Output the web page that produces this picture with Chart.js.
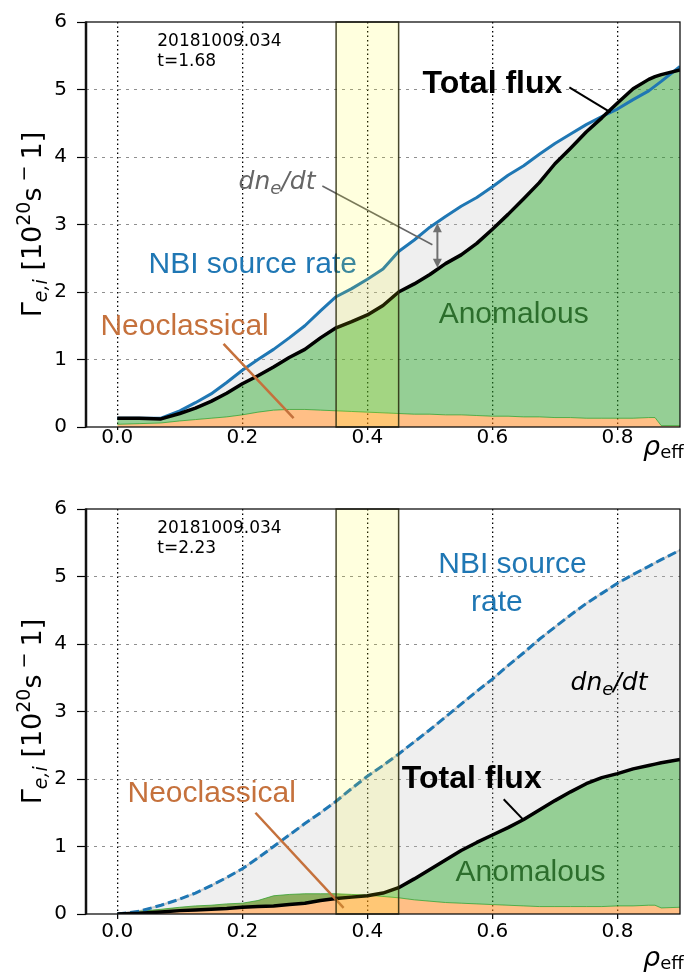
<!DOCTYPE html>
<html>
<head>
<meta charset="utf-8">
<script src="https://cdn.jsdelivr.net/npm/chart.js@4.4.1/dist/chart.umd.min.js"></script>
<style>
  body { margin: 0; background: #fff; }
  canvas { display: block; }
</style>
</head>
<body>
<canvas id="fluxEarly" width="687" height="487"></canvas>
<canvas id="fluxLate" width="687" height="486"></canvas>
<script>
// radial grid (rho_eff), shared by both time slices
const rho = [0, 0.035, 0.07, 0.1, 0.125, 0.15, 0.175, 0.2, 0.225, 0.25, 0.275, 0.3, 0.325, 0.35,
  0.375, 0.4, 0.425, 0.45, 0.475, 0.5, 0.525, 0.55, 0.575, 0.6, 0.625, 0.65, 0.675, 0.7,
  0.725, 0.75, 0.775, 0.8, 0.825, 0.85, 0.86, 0.87, 0.9];

// shot 20181009.034, t = 1.68 s
const nbiEarly = [0.13, 0.13, 0.13, 0.24, 0.36, 0.49, 0.66, 0.84, 1.00, 1.15, 1.32, 1.50, 1.72, 1.93,
  2.05, 2.19, 2.34, 2.60, 2.77, 2.96, 3.12, 3.27, 3.40, 3.56, 3.73, 3.87, 4.04, 4.20,
  4.34, 4.48, 4.60, 4.71, 4.85, 4.98, 5.05, 5.12, 5.34];
const totalEarly = [0.13, 0.13, 0.12, 0.20, 0.28, 0.38, 0.50, 0.64, 0.76, 0.89, 1.03, 1.15, 1.32, 1.47,
  1.56, 1.66, 1.80, 2.00, 2.12, 2.26, 2.42, 2.55, 2.72, 2.93, 3.15, 3.38, 3.62, 3.90,
  4.13, 4.37, 4.58, 4.80, 5.01, 5.15, 5.19, 5.22, 5.29];
const neoEarly = [0.04, 0.05, 0.06, 0.09, 0.11, 0.13, 0.15, 0.18, 0.22, 0.25, 0.26, 0.26, 0.25, 0.24,
  0.23, 0.22, 0.21, 0.20, 0.19, 0.19, 0.18, 0.18, 0.17, 0.16, 0.16, 0.15, 0.15, 0.14,
  0.14, 0.13, 0.13, 0.13, 0.13, 0.14, 0.14, 0.02, 0.02];

// shot 20181009.034, t = 2.23 s
const nbiLate = [0, 0.04, 0.13, 0.22, 0.31, 0.42, 0.54, 0.67, 0.83, 1.00, 1.17, 1.34, 1.50, 1.67,
  1.86, 2.04, 2.20, 2.37, 2.55, 2.73, 2.92, 3.11, 3.30, 3.48, 3.68, 3.87, 4.07, 4.25,
  4.43, 4.60, 4.75, 4.90, 5.03, 5.15, 5.20, 5.25, 5.39];
const totalLate = [0, 0.01, 0.03, 0.05, 0.06, 0.07, 0.08, 0.10, 0.11, 0.12, 0.14, 0.16, 0.20, 0.23,
  0.25, 0.27, 0.31, 0.39, 0.52, 0.66, 0.80, 0.94, 1.06, 1.17, 1.28, 1.40, 1.54, 1.68,
  1.81, 1.93, 2.02, 2.08, 2.15, 2.20, 2.22, 2.24, 2.29];
const neoLate = [0, 0.04, 0.07, 0.10, 0.12, 0.13, 0.15, 0.16, 0.20, 0.27, 0.29, 0.30, 0.30, 0.30,
  0.29, 0.28, 0.26, 0.24, 0.21, 0.19, 0.17, 0.16, 0.15, 0.14, 0.13, 0.12, 0.11, 0.11,
  0.11, 0.11, 0.11, 0.12, 0.12, 0.13, 0.13, 0.09, 0.10];

const xTicks = [0, 0.2, 0.4, 0.6, 0.8];
const yTicks = [0, 1, 2, 3, 4, 5, 6];
const band = [0.35, 0.45];

const DEJAVU = '"DejaVu Sans", sans-serif';
const ARIAL = '"Liberation Sans", Arial, sans-serif';
const BLUE = '#1f77b4';
const NEO_TXT = '#c5713c';
const ANOM_TXT = '#2c6e2c';

function at(chart, x, y) {
  return [chart.scales.x.getPixelForValue(x), chart.scales.y.getPixelForValue(y)];
}

function text(ctx, str, font, color, p, align) {
  ctx.font = font;
  ctx.fillStyle = color;
  ctx.textAlign = align || 'left';
  ctx.textBaseline = 'middle';
  ctx.fillText(str, p[0], p[1]);
}

// pieces of text with their own font and vertical shift, on one baseline
function rich(ctx, parts, x, y, align, color) {
  let w = 0;
  parts.forEach(p => { ctx.font = p.f; p.w = ctx.measureText(p.t).width; w += p.w; });
  let cx = align === 'center' ? x - w / 2 : x;
  ctx.fillStyle = color;
  ctx.textAlign = 'left';
  ctx.textBaseline = 'alphabetic';
  parts.forEach(p => { ctx.font = p.f; ctx.fillText(p.t, cx, y + (p.dy || 0)); cx += p.w; });
}

function line(ctx, a, b, color, width) {
  ctx.save();
  ctx.strokeStyle = color;
  ctx.lineWidth = width;
  ctx.beginPath();
  ctx.moveTo(a[0], a[1]);
  ctx.lineTo(b[0], b[1]);
  ctx.stroke();
  ctx.restore();
}

function head(ctx, tip, from, len, half) {
  const ang = Math.atan2(tip[1] - from[1], tip[0] - from[0]);
  ctx.beginPath();
  ctx.moveTo(tip[0], tip[1]);
  ctx.lineTo(tip[0] - len * Math.cos(ang) + half * Math.sin(ang), tip[1] - len * Math.sin(ang) - half * Math.cos(ang));
  ctx.lineTo(tip[0] - len * Math.cos(ang) - half * Math.sin(ang), tip[1] - len * Math.sin(ang) + half * Math.cos(ang));
  ctx.closePath();
  ctx.fill();
}

function dnedt(ctx, x, y, color) {
  const it = s => 'italic ' + s + 'px ' + DEJAVU;
  rich(ctx, [{ t: 'dn', f: it(25) }, { t: 'e', f: it(18), dy: 5 }, { t: '/dt', f: it(25) }], x, y, 'left', color);
}

function infoBox(chart, t) {
  const ctx = chart.ctx;
  text(ctx, '20181009.034', '17px ' + DEJAVU, '#000', at(chart, 0.064, 5.71));
  text(ctx, 't=' + t, '17px ' + DEJAVU, '#000', at(chart, 0.064, 5.41));
}

const notesEarly = (chart) => {
  const ctx = chart.ctx;
  infoBox(chart, '1.68');
  text(ctx, 'Total flux', 'bold 32px ' + ARIAL, '#000', at(chart, 0.6, 5.08), 'center');
  line(ctx, at(chart, 0.723, 5.03), at(chart, 0.789, 4.66), '#000', 2);
  const d = at(chart, 0.194, 3.52);
  dnedt(ctx, d[0], d[1], '#666');
  line(ctx, at(chart, 0.328, 3.57), at(chart, 0.504, 2.70), '#666', 1.5);
  const a = at(chart, 0.512, 3.02), b = at(chart, 0.512, 2.36);
  line(ctx, [a[0], a[1] + 6], [b[0], b[1] - 6], '#707070', 2);
  ctx.fillStyle = '#707070';
  head(ctx, a, b, 9, 4.5);
  head(ctx, b, a, 9, 4.5);
  text(ctx, 'NBI source rate', '30px ' + ARIAL, BLUE, at(chart, 0.05, 2.40));
  text(ctx, 'Neoclassical', '30px ' + ARIAL, NEO_TXT, at(chart, -0.027, 1.48));
  line(ctx, at(chart, 0.17, 1.23), at(chart, 0.282, 0.13), NEO_TXT, 2.5);
  text(ctx, 'Anomalous', '30px ' + ARIAL, ANOM_TXT, at(chart, 0.634, 1.67), 'center');
};

const notesLate = (chart) => {
  const ctx = chart.ctx;
  infoBox(chart, '2.23');
  text(ctx, 'NBI source', '30px ' + ARIAL, BLUE, at(chart, 0.632, 5.17), 'center');
  text(ctx, 'rate', '30px ' + ARIAL, BLUE, at(chart, 0.607, 4.61), 'center');
  const d = at(chart, 0.725, 3.32);
  dnedt(ctx, d[0], d[1], '#000');
  text(ctx, 'Total flux', 'bold 32px ' + ARIAL, '#000', at(chart, 0.567, 2.0), 'center');
  line(ctx, at(chart, 0.618, 1.70), at(chart, 0.65, 1.39), '#000', 2);
  text(ctx, 'Anomalous', '30px ' + ARIAL, ANOM_TXT, at(chart, 0.661, 0.61), 'center');
  text(ctx, 'Neoclassical', '30px ' + ARIAL, NEO_TXT, at(chart, 0.151, 1.78), 'center');
  line(ctx, at(chart, 0.221, 1.50), at(chart, 0.362, 0.09), NEO_TXT, 2.5);
};

function fluxChart(id, nbi, total, neo, opts) {
  const pts = ys => rho.map((x, i) => ({ x, y: ys[i] }));
  const datasets = [
    { label: 'Neoclassical', data: pts(neo), borderColor: 'rgba(44,160,44,0.75)', borderWidth: 1,
      backgroundColor: 'rgba(255,127,14,0.5)', fill: 'origin', order: 2 },
    { label: 'Total flux', data: pts(total), borderColor: '#000', borderWidth: 3.5,
      backgroundColor: 'rgba(44,160,44,0.5)', fill: { target: 0 }, order: 0 },
    { label: 'NBI source rate', data: pts(nbi), borderColor: BLUE, borderWidth: 3,
      borderDash: opts.dashed ? [9, 4] : [], backgroundColor: 'rgba(190,190,190,0.25)',
      fill: { target: 1 }, order: 1 }
  ];
  if (opts.dashed) {
    // pale line showing through the gaps of the dashed curve
    datasets.push({ label: '', data: pts(nbi), borderColor: '#cccccc', borderWidth: 2, fill: false, order: 3 });
  }

  const decor = {
    id: 'decor',
    afterDatasetsDraw(chart) {
      const ctx = chart.ctx, a = chart.chartArea;
      opts.notes(chart);
      // highlighted radial window
      const x0 = chart.scales.x.getPixelForValue(band[0]);
      const x1 = chart.scales.x.getPixelForValue(band[1]);
      ctx.save();
      ctx.fillStyle = 'rgba(255,255,0,0.13)';
      ctx.fillRect(x0, a.top, x1 - x0, a.bottom - a.top);
      ctx.strokeStyle = 'rgba(40,40,10,0.85)';
      ctx.lineWidth = 1.5;
      ctx.strokeRect(x0, a.top, x1 - x0, a.bottom - a.top);
      ctx.restore();
    },
    afterDraw(chart) {
      const ctx = chart.ctx, a = chart.chartArea;
      ctx.save();
      ctx.strokeStyle = '#111';
      ctx.lineWidth = 1.3;
      ctx.strokeRect(a.left, a.top, a.right - a.left, a.bottom - a.top);
      line(ctx, [a.left, a.top - 0.5], [a.left, a.bottom + 0.5], '#111', 2.5);

      // y-axis title, rotated
      const big = '27px ' + DEJAVU, small = '19px ' + DEJAVU, smallIt = 'italic 19px ' + DEJAVU;
      const parts = [
        { t: 'Γ', f: big }, { t: 'e,i', f: smallIt, dy: 6 }, { t: ' [10', f: big },
        { t: '20', f: small, dy: -11 }, { t: 's', f: big }, { t: ' − ', f: small, dy: -11 },
        { t: '1]', f: big }
      ];
      ctx.translate(41, (a.top + a.bottom) / 2);
      ctx.rotate(-Math.PI / 2);
      rich(ctx, parts, 0, 0, 'center', '#000');
      ctx.restore();

      // x-axis title
      ctx.save();
      rich(ctx, [{ t: 'ρ', f: 'italic 27px ' + DEJAVU }, { t: 'eff', f: '18px ' + DEJAVU, dy: 3 }],
        a.right - 37, a.bottom + opts.rhoDrop, 'left', '#000');
      ctx.restore();
    }
  };

  return new Chart(document.getElementById(id), {
    type: 'line',
    data: { datasets },
    options: {
      responsive: false,
      animation: false,
      events: [],
      layout: { padding: { top: opts.top, right: 7, left: 0, bottom: 0 } },
      elements: { point: { radius: 0 }, line: { tension: 0, borderJoinStyle: 'round' } },
      plugins: {
        legend: { display: false },
        tooltip: { enabled: false },
        filler: { drawTime: 'beforeDatasetsDraw', propagate: false }
      },
      scales: {
        x: {
          type: 'linear', min: -0.05, max: 0.9,
          afterFit: s => { s.height = opts.axisGap; },
          afterBuildTicks: s => { s.ticks = xTicks.map(v => ({ value: v })); },
          ticks: { font: { family: DEJAVU, size: 20 }, color: '#000', padding: opts.tickPad,
            maxRotation: 0, autoSkip: false, callback: v => v.toFixed(1) },
          grid: { color: '#000', lineWidth: 1.3, tickColor: '#000', tickLength: opts.tickLen, tickWidth: 1.2 },
          border: { display: false, dash: [1.5, 3] }
        },
        y: {
          min: 0, max: 6,
          afterFit: s => { s.width = 86; },
          afterBuildTicks: s => { s.ticks = yTicks.map(v => ({ value: v })); },
          ticks: { font: { family: DEJAVU, size: 20 }, color: '#000', padding: 10, callback: v => String(v) },
          grid: {
            color: c => (c.tick && (c.tick.value === 0 || c.tick.value === 6)) ? 'rgba(0,0,0,0)' : '#8f8f8f',
            lineWidth: 1, tickColor: '#000', tickLength: 9, tickWidth: 1.2
          },
          border: { display: false, dash: [3, 5] }
        }
      }
    },
    plugins: [decor]
  });
}

fluxChart('fluxEarly', nbiEarly, totalEarly, neoEarly,
  { dashed: false, top: 17, axisGap: 60, tickLen: 3, tickPad: -4, rhoDrop: 28, notes: notesEarly });
fluxChart('fluxLate', nbiLate, totalLate, neoLate,
  { dashed: true, top: 18, axisGap: 59, tickLen: 5, tickPad: 1, rhoDrop: 52, notes: notesLate });
</script>
</body>
</html>
